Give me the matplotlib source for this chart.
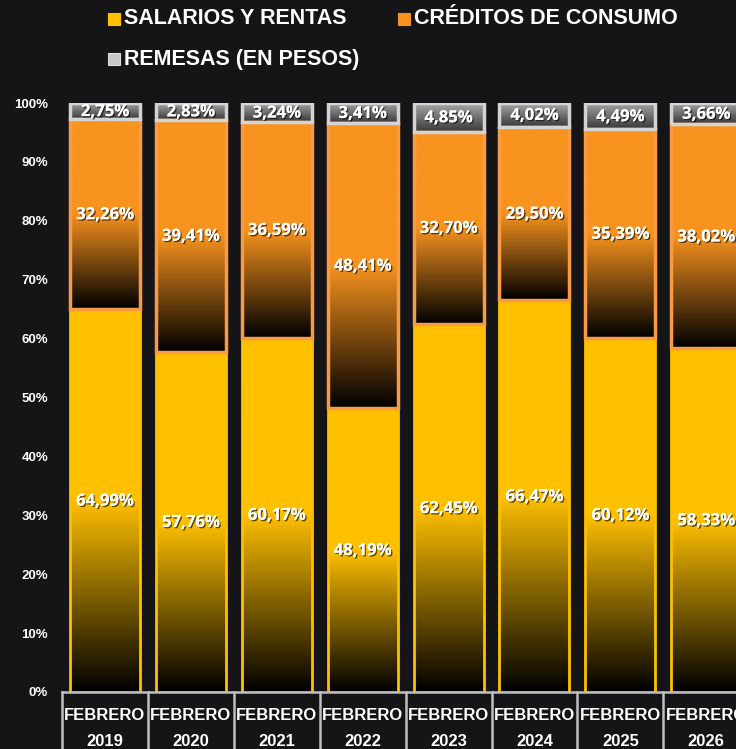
import matplotlib
matplotlib.use("Agg")
import matplotlib.pyplot as plt
import matplotlib.patheffects as pe
from matplotlib.patches import Rectangle
from matplotlib.transforms import blended_transform_factory
import numpy as np

years = ["2019", "2020", "2021", "2022", "2023", "2024", "2025", "2026"]
salarios = [64.99, 57.76, 60.17, 48.19, 62.45, 66.47, 60.12, 58.33]
creditos = [32.26, 39.41, 36.59, 48.41, 32.70, 29.50, 35.39, 38.02]
remesas = [2.75, 2.83, 3.24, 3.41, 4.85, 4.02, 4.49, 3.66]
series_names = ["SALARIOS Y RENTAS", "CRÉDITOS DE CONSUMO", "REMESAS (EN PESOS)"]

BG = "#151517"
YELLOW = "#FFC000"
ORANGE = "#F7931E"
ORANGE_EDGE = "#F99A45"
GRAY_EDGE = "#D4D4D4"

W, H = 736, 749
fig = plt.figure(figsize=(W / 100, H / 100), dpi=100, facecolor=BG)
# axes run past the right edge like the original
ax = fig.add_axes([62 / W, 1 - 692 / H, 8 * 85.9 / W, 589 / H])
ax.set_facecolor(BG)


def fade_img(color, solid=0.5, n=200):
    # top part solid, bottom part fading to black
    t = np.linspace(0, 1, n)[:, None]  # 0 bottom .. 1 top
    f = np.clip(t / (1 - solid), 0, 1)
    rgb = np.array(matplotlib.colors.to_rgb(color))
    img = f[..., None] * rgb[None, None, :]
    return img[::-1]


def gray_img(n=100):
    t = np.linspace(0, 1, n)[:, None]
    top = np.array([0.66, 0.66, 0.66])
    bot = np.array([0.22, 0.22, 0.22])
    img = bot + t[..., None] * (top - bot)
    return img[::-1]


shadow = [pe.withSimplePatchShadow(offset=(1, -1), shadow_rgbFace="black", alpha=0.6), pe.Normal()]
bw = 0.815


def pct(v):
    return f"{v:.2f}".replace(".", ",") + "%"


for i in range(len(years)):
    x0, x1 = i - bw / 2, i + bw / 2
    segs = [
        (0, salarios[i], salarios[i], fade_img(YELLOW, 0.5), YELLOW, 2),
        (salarios[i], salarios[i] + creditos[i], creditos[i], fade_img(ORANGE, 0.5), ORANGE_EDGE, 2.5),
        (salarios[i] + creditos[i], salarios[i] + creditos[i] + remesas[i], remesas[i], gray_img(), GRAY_EDGE, 2.5),
    ]
    for lo, hi, v, img, ec, lw in segs:
        ax.imshow(img, extent=(x0, x1, lo, hi), aspect="auto", zorder=2, interpolation="bilinear")
        ax.add_patch(Rectangle((x0, lo), bw, hi - lo, fill=False, ec=ec, lw=lw, zorder=3))
        ax.text(i, (lo + hi) / 2, pct(v), ha="center", va="center",
                color="white", fontsize=12, fontweight="bold", family="Open Sans",
                zorder=4, path_effects=shadow)

ax.set_xlim(-0.5, 7.5)
ax.set_ylim(0, 100)
ax.set_yticks(np.arange(0, 101, 10))
ax.set_yticklabels([f"{v}%" for v in range(0, 101, 10)])
ax.tick_params(axis="y", length=0, pad=10, labelcolor="white", labelsize=9.5)
for lab in ax.get_yticklabels():
    lab.set_fontweight("bold")
    lab.set_family("Liberation Sans")
ax.set_xticks([])
for s in ["top", "right", "left"]:
    ax.spines[s].set_visible(False)
ax.spines["bottom"].set_color("#BFBFBF")
ax.spines["bottom"].set_linewidth(1.8)
ax.spines["bottom"].set_zorder(1)

# category boxes below the axis
tr = blended_transform_factory(ax.transData, ax.transAxes)
for b in np.arange(-0.5, 8.0, 1.0):
    ax.plot([b, b], [0, -0.12], transform=tr, color="#BFBFBF", lw=1.8, clip_on=False)
for i, y in enumerate(years):
    ax.text(i, (692 - 715) / 589, "FEBRERO", transform=tr, ha="center", va="center",
            color="white", fontsize=12, fontweight="bold", family="Liberation Sans")
    ax.text(i, (692 - 741) / 589, y, transform=tr, ha="center", va="center",
            color="white", fontsize=12, fontweight="bold", family="Liberation Sans")

# legend drawn by hand
leg = [(108, 19, YELLOW, series_names[0]), (398, 19, ORANGE, series_names[1]),
       (108, 59, "#C8C8C8", series_names[2])]
for px, py, c, name in leg:
    fig.patches.append(Rectangle((px / W, 1 - (py + 6) / H), 12 / W, 12 / H, transform=fig.transFigure,
                                 fc=c, ec="#DDDDDD" if c == "#C8C8C8" else c, lw=0.8))
    fig.text((px + 16) / W, 1 - py / H, name, ha="left", va="center", color="white",
             fontsize=15.5, fontweight="bold", family="Liberation Sans")

fig.savefig("out.png", dpi=100, facecolor=BG)
